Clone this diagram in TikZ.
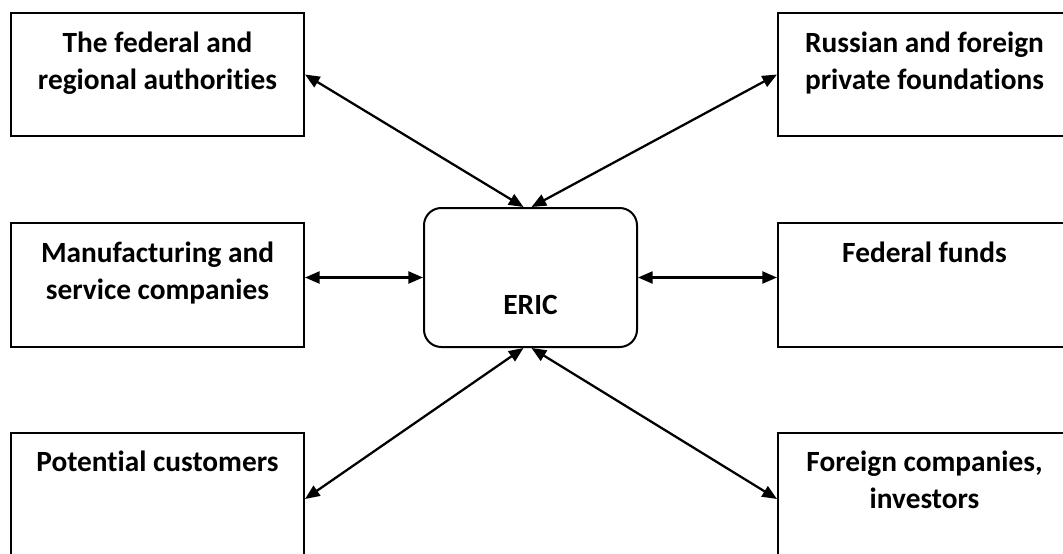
\documentclass[tikz,border=0pt]{standalone}
\usepackage{fontspec}
\setmainfont{Carlito}[Ligatures={NoCommon}]
\usetikzlibrary{arrows.meta, positioning, calc}

% text hung from the top of a box: width, height, first baseline, text
\newcommand{\boxlabel}[4]{\parbox[c][#2][t]{#1}{\centering\rule{0pt}{#3}#4}}

\begin{document}
\begin{tikzpicture}[
      x=0.75pt, y=-0.75pt,
      actor/.style={draw=black, line width=1.5pt, inner sep=0pt, font=\bfseries\fontsize{22}{27.75}\selectfont},
      hub/.style={actor, rounded corners=13pt},
      link/.style={arrows={Triangle[length=11pt, width=9pt]-Triangle[length=11pt, width=9pt]}, line width=1.7pt}
    ]
      % Canvas
      \clip (0,0) rectangle (1063,553);
      
      % Partner boxes
      \node[actor, anchor=north west] (auth) at (10,12) {\boxlabel{219.75pt}{92.25pt}{29.5pt}{The federal and\\regional authorities}};
      \node[actor, anchor=north west] (found) at (777,12) {\boxlabel{219.75pt}{92.25pt}{29.5pt}{Russian and foreign\\private foundations}};
      \node[actor, anchor=north west] (manuf) at (10,222) {\boxlabel{219.75pt}{93pt}{29.5pt}{Manufacturing and\\service companies}};
      \node[actor, anchor=north west] (funds) at (777,222) {\boxlabel{219.75pt}{93pt}{29.5pt}{Federal funds}};
      \node[actor, anchor=north west] (cust) at (10,432) {\boxlabel{219.75pt}{99pt}{29pt}{Potential customers}};
      \node[actor, anchor=north west] (foreign) at (777,432) {\boxlabel{219.75pt}{99pt}{29pt}{Foreign companies,\\investors}};
      
      % Centre
      \node[hub, anchor=north west] (eric) at (423,207) {\boxlabel{159.75pt}{104.25pt}{79.5pt}{ERIC}};
      
      % Links
      \draw[link] (auth.east) -- ($(eric.north)+(-7,0)$);
      \draw[link] (found.west) -- ($(eric.north)+(1,0)$);
      \draw[link] (manuf.east |- eric.west) -- (eric.west);
      \draw[link] (eric.east) -- (funds.west |- eric.east);
      \draw[link] ($(eric.south)+(-7,0)$) -- (cust.east);
      \draw[link] ($(eric.south)+(1,0)$) -- (foreign.west);
    \end{tikzpicture}
\end{document}
